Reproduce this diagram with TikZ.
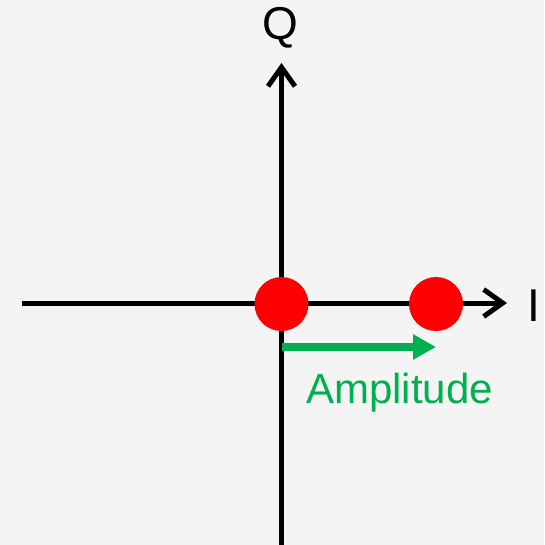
\documentclass[tikz,border=0pt]{standalone}
\usepackage{fontspec}
\setmainfont{Liberation Sans}
\usetikzlibrary{arrows.meta}
\definecolor{bg}{RGB}{244,244,244}
\definecolor{ampgreen}{RGB}{0,176,80}
\definecolor{ptred}{RGB}{255,0,0}
\begin{document}
\begin{tikzpicture}[x=1pt,y=-1pt,
  axis/.style={line width=5pt,-{Straight Barb[length=19pt,width=27pt,line width=5pt]}},
  pt/.style={circle,fill=ptred,minimum size=54pt,inner sep=0pt},
  amp/.style={line width=8pt,ampgreen,-{Triangle[length=23pt,width=24pt]}},
  lbl/.style={inner sep=0pt,font=\fontsize{46}{46}\selectfont}]
\fill[bg] (0,0) rectangle (544,545);
\useasboundingbox (0,0) rectangle (544,545);
\coordinate (qb) at (281.5,545);
\coordinate (qt) at (281.5,63);
\coordinate (il) at (22,303);
\coordinate (ir) at (507,303);
\draw[axis] (qb) -- (qt);
\draw[axis] (il) -- (ir);
\node[lbl,anchor=base] (Q) at (280,40) {Q};
\node[lbl,anchor=base] (I) at (534,321) {I};
\node[pt] (p0) at (281.5,304) {};
\node[pt] (p1) at (436,304) {};
\coordinate (as) at (281.5,347);
\coordinate (ae) at (436,347);
\draw[amp] (as) -- (ae);
\node[inner sep=0pt,anchor=base west,text=ampgreen,font=\fontsize{42}{42}\selectfont] (amplab) at (306,403) {Amplitude};
\end{tikzpicture}
\end{document}
